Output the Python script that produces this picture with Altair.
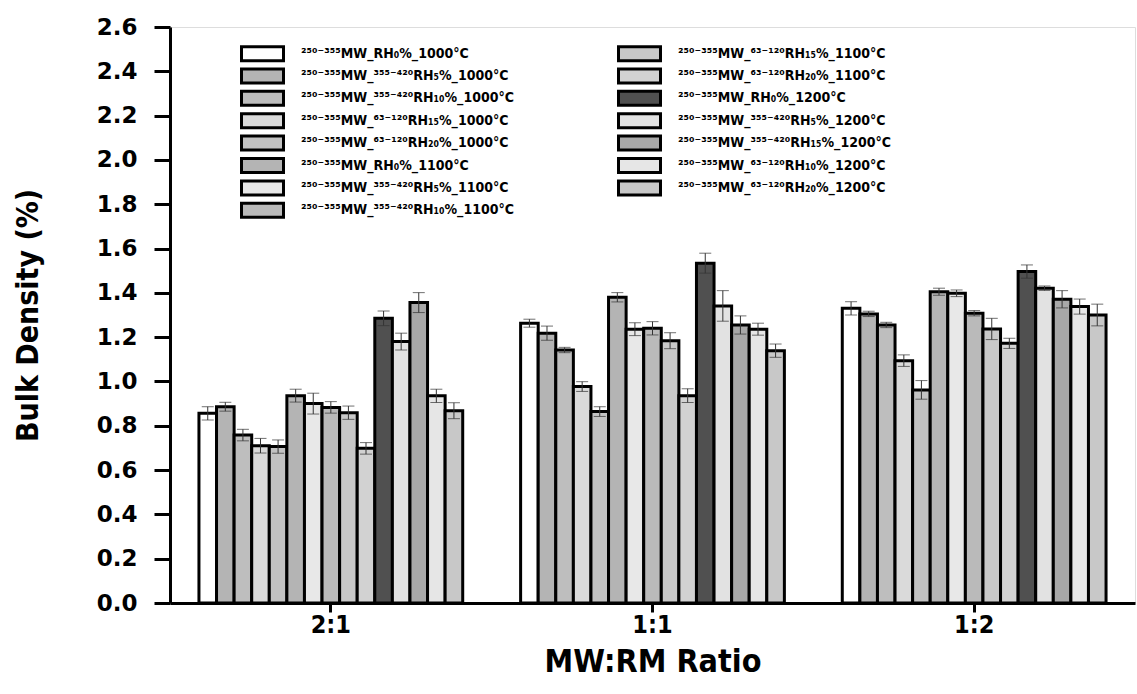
import altair as alt
import pandas as pd

groups = ["2:1", "1:1", "1:2"]

series = [
    "²⁵⁰⁻³⁵⁵MW_RH₀%_1000°C",
    "²⁵⁰⁻³⁵⁵MW_³⁵⁵⁻⁴²⁰RH₅%_1000°C",
    "²⁵⁰⁻³⁵⁵MW_³⁵⁵⁻⁴²⁰RH₁₀%_1000°C",
    "²⁵⁰⁻³⁵⁵MW_⁶³⁻¹²⁰RH₁₅%_1000°C",
    "²⁵⁰⁻³⁵⁵MW_⁶³⁻¹²⁰RH₂₀%_1000°C",
    "²⁵⁰⁻³⁵⁵MW_RH₀%_1100°C",
    "²⁵⁰⁻³⁵⁵MW_³⁵⁵⁻⁴²⁰RH₅%_1100°C",
    "²⁵⁰⁻³⁵⁵MW_³⁵⁵⁻⁴²⁰RH₁₀%_1100°C",
    "²⁵⁰⁻³⁵⁵MW_⁶³⁻¹²⁰RH₁₅%_1100°C",
    "²⁵⁰⁻³⁵⁵MW_⁶³⁻¹²⁰RH₂₀%_1100°C",
    "²⁵⁰⁻³⁵⁵MW_RH₀%_1200°C",
    "²⁵⁰⁻³⁵⁵MW_³⁵⁵⁻⁴²⁰RH₅%_1200°C",
    "²⁵⁰⁻³⁵⁵MW_³⁵⁵⁻⁴²⁰RH₁₅%_1200°C",
    "²⁵⁰⁻³⁵⁵MW_⁶³⁻¹²⁰RH₁₀%_1200°C",
    "²⁵⁰⁻³⁵⁵MW_⁶³⁻¹²⁰RH₂₀%_1200°C",
]

# grey tones standing in for the hatch patterns
fills = ["#ffffff", "#b4b4b4", "#bebebe", "#dadada", "#c2c2c2",
         "#b4b4b4", "#e8e8e8", "#bababa", "#c8c8c8", "#d2d2d2",
         "#505050", "#e2e2e2", "#a8a8a8", "#e6e6e6", "#c8c8c8"]

vals_21 = [0.856, 0.886, 0.758, 0.710, 0.706, 0.936, 0.900, 0.883, 0.859, 0.698, 1.285, 1.180, 1.356, 0.935, 0.868]
err_21 = [0.030, 0.020, 0.026, 0.033, 0.030, 0.029, 0.047, 0.026, 0.030, 0.026, 0.033, 0.038, 0.045, 0.030, 0.036]
vals_11 = [1.263, 1.218, 1.142, 0.977, 0.864, 1.380, 1.236, 1.240, 1.184, 0.936, 1.534, 1.341, 1.255, 1.236, 1.139]
err_11 = [0.018, 0.032, 0.012, 0.022, 0.022, 0.021, 0.029, 0.030, 0.036, 0.031, 0.045, 0.069, 0.041, 0.027, 0.030]
vals_12 = [1.330, 1.305, 1.255, 1.094, 0.962, 1.405, 1.398, 1.308, 1.237, 1.172, 1.496, 1.421, 1.371, 1.338, 1.300]
err_12 = [0.030, 0.012, 0.012, 0.026, 0.042, 0.016, 0.015, 0.012, 0.048, 0.023, 0.030, 0.010, 0.039, 0.034, 0.049]

y_ticks = [round(0.1 * i, 1) for i in range(27)]

rows = []
for g, vals, errs in zip(groups, [vals_21, vals_11, vals_12], [err_21, err_11, err_12]):
    for s, v, e in zip(series, vals, errs):
        rows.append({"group": g, "series": s, "value": v, "lo": v - e, "hi": v + e})
df = pd.DataFrame(rows)

COND = "DejaVu Sans Condensed"

base = alt.Chart(df).encode(
    x=alt.X("group:N", sort=groups,
            scale=alt.Scale(paddingInner=0.18, paddingOuter=0.09),
            axis=alt.Axis(title="MW:RM Ratio", labelAngle=0,
                          labelFont=COND, labelFontSize=25,
                          labelFontWeight="bold", labelColor="black", labelPadding=0,
                          titleFont=COND, titleFontSize=32,
                          titleFontWeight="bold", titleColor="black", titlePadding=9,
                          domainColor="black", domainWidth=3, tickColor="black",
                          tickWidth=3, tickSize=9)),
    xOffset=alt.XOffset("series:N", sort=series,
                        scale=alt.Scale(paddingInner=0, paddingOuter=0)),
)

bars = base.mark_bar(stroke="black", strokeWidth=3).encode(
    y=alt.Y("value:Q",
            scale=alt.Scale(domain=[0, 2.6], nice=False, zero=True),
            axis=alt.Axis(title="Bulk Density (%)", values=y_ticks,
                          labelExpr="round(datum.value*10)%2===0 ? format(datum.value,'.1f') : ''",
                          labelFont="DejaVu Sans", labelFontSize=23, labelFontWeight="bold",
                          labelColor="black", labelPadding=17,
                          tickSize={"condition": {"test": "round(datum.value*10)%2===0", "value": 16}, "value": 8},
                          tickWidth=3, tickColor="black", domainColor="black", domainWidth=3,
                          titleFont=COND, titleFontSize=30,
                          titleFontWeight="bold", titleColor="black", titlePadding=53,
                          grid=False)),
    fill=alt.Fill("series:N",
                  scale=alt.Scale(domain=series, range=fills),
                  legend=alt.Legend(title=None, orient="none", legendX=84, legendY=18,
                                    columns=2, symbolType="M-3,-1H3V1H-3Z", symbolSize=196,
                                    symbolStrokeColor="black", symbolStrokeWidth=3,
                                    labelFont=COND, labelFontSize=14,
                                    labelFontWeight="bold", labelColor="black",
                                    labelOffset=30, labelLimit=400, rowPadding=-4.6,
                                    columnPadding=97, padding=0)),
)

whisk = base.mark_rule(color="#333333", strokeWidth=1).encode(y="lo:Q", y2="hi:Q")
cap_hi = base.mark_tick(color="#333333", thickness=1, size=12).encode(y="hi:Q")
cap_lo = base.mark_tick(color="#333333", thickness=1, size=12).encode(y="lo:Q")

chart = alt.layer(bars, whisk, cap_hi, cap_lo).properties(
    width=965, height=576,
    autosize=alt.AutoSizeParams(type="none"),
    padding={"left": 170, "top": 27, "right": 2, "bottom": 91},
).configure_view(stroke=None).configure(background="white")

chart.save("out.html", embed_options={"renderer": "svg", "actions": False})
